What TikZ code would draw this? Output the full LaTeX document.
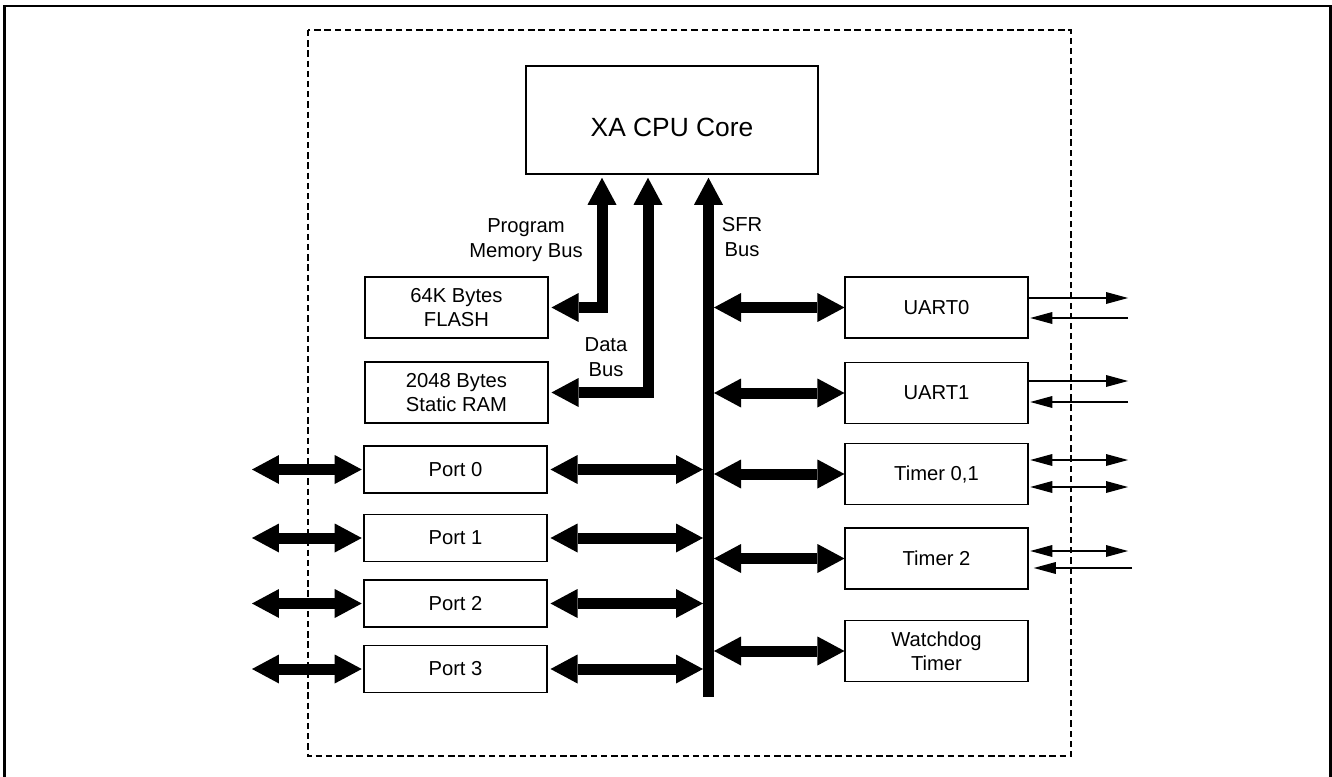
\documentclass[tikz,border=0pt]{standalone}
\usepackage{fontspec}
\setmainfont{Liberation Sans}
\usetikzlibrary{arrows.meta,calc}

\tikzset{
	blk/.style={draw, line width=0.9pt, minimum width=3.65cm, minimum height=1.22cm, inner sep=0pt, align=center, font=\fontsize{11.5}{13.8}\selectfont},
	portblk/.style={blk, minimum height=0.94cm},
	lbl/.style={align=center, inner sep=0pt, font=\fontsize{11.5}{14.2}\selectfont},
	bigtip/.tip={Triangle[length=0.54cm, width=0.58cm, line width=0pt]},
	smalltip/.tip={Triangle[length=0.44cm, width=0.24cm, line width=0pt]},
	bus/.style={line width=0.22cm, -bigtip},
	dbus/.style={line width=0.22cm, bigtip-bigtip},
	sig/.style={line width=0.7pt, -smalltip},
	dsig/.style={line width=0.7pt, smalltip-smalltip}
}

\begin{document}
\begin{tikzpicture}[x=0.02cm, y=-0.02cm] % 1
		\useasboundingbox (0,0) rectangle (1332,777);
		\draw[line width=1.4pt] (4.5,777) -- (4.5,6) -- (1330.5,6) -- (1330.5,777);
		\draw[line width=1.5pt, dash pattern=on 3.6pt off 2.2pt] (308,30) rectangle (1071,756);

		\node[draw, line width=0.9pt, minimum width=5.84cm, minimum height=2.16cm, inner sep=0pt,
			text height=0.68cm, text depth=0pt, font=\fontsize{15}{18}\selectfont] (cpu) at (672,120) {XA CPU Core};

		\node[blk] (flash) at (456.5,307.5) {64K Bytes\\FLASH};
		\node[blk] (ram) at (456.5,392.5) {2048 Bytes\\Static RAM};
		\node[portblk] (p0) at (455.5,469.5) {Port 0};
		\node[portblk] (p1) at (455.5,538) {Port 1};
		\node[portblk] (p2) at (455.5,603.5) {Port 2};
		\node[portblk] (p3) at (455.5,669) {Port 3};

		\node[blk] (uart0) at (936.5,307.5) {UART0};
		\node[blk] (uart1) at (936.5,393) {UART1};
		\node[blk] (tmr01) at (936.5,474) {Timer 0,1};
		\node[blk] (tmr2) at (936.5,558.5) {Timer 2};
		\node[blk] (wdt) at (936.5,651) {Watchdog\\Timer};

		\node[lbl] (pmlbl) at (526,240) {Program\\Memory Bus};
		\node[lbl] (dlbl) at (606,357) {Data\\Bus};
		\node[lbl] (sfrlbl) at (742,237) {SFR\\Bus};

		% buses
		\coordinate (pmb) at (602,0);
		\coordinate (dtb) at (648,0);
		\coordinate (sfrb) at (708.5,697);
		\coordinate (busL) at (703,0);
		\coordinate (busR) at (714,0);
		\coordinate (pl) at (252,0);
		\coordinate (ext) at (1128,0);

		\draw[bus, shorten >=1.7pt] (sfrb) -- (sfrb |- cpu.south);
		\draw[dbus, shorten >=1.7pt, shorten <=1.7pt] (flash.east) -| (pmb |- cpu.south);
		\draw[dbus, shorten >=1.7pt, shorten <=1.7pt] (ram.east) -| (dtb |- cpu.south);

		\foreach \p in {p0,p1,p2,p3} {
			\draw[dbus, shorten >=1pt] (\p.west -| pl) -- (\p.west);
			\draw[dbus, shorten <=1.7pt] (\p.east) -- (\p.east -| busL);
		}
		\foreach \u in {uart0,uart1,tmr01,tmr2,wdt}
			\draw[dbus] (\u.west -| busR) -- (\u.west);

		% serial and timer lines
		\draw[sig] ($(uart0.east)+(0,-9.5)$) -- ($(uart0.east -| ext)+(0,-9.5)$);
		\draw[sig, shorten >=1pt] ($(uart0.east -| ext)+(0,10.5)$) -- ($(uart0.east)+(0,10.5)$);
		\draw[sig] ($(uart1.east)+(0,-12)$) -- ($(uart1.east -| ext)+(0,-12)$);
		\draw[sig, shorten >=1pt] ($(uart1.east -| ext)+(0,9)$) -- ($(uart1.east)+(0,9)$);
		\draw[dsig, shorten <=1pt] ($(tmr01.east)+(0,-14)$) -- ($(tmr01.east -| ext)+(0,-14)$);
		\draw[dsig, shorten <=1pt] ($(tmr01.east)+(0,13)$) -- ($(tmr01.east -| ext)+(0,13)$);
		\draw[dsig, shorten <=1pt] ($(tmr2.east)+(0,-7.5)$) -- ($(tmr2.east -| ext)+(0,-7.5)$);
		\draw[sig, shorten >=3pt] ($(tmr2.east -| ext)+(4,9.5)$) -- ($(tmr2.east)+(0,9.5)$);
\end{tikzpicture}
\end{document}
